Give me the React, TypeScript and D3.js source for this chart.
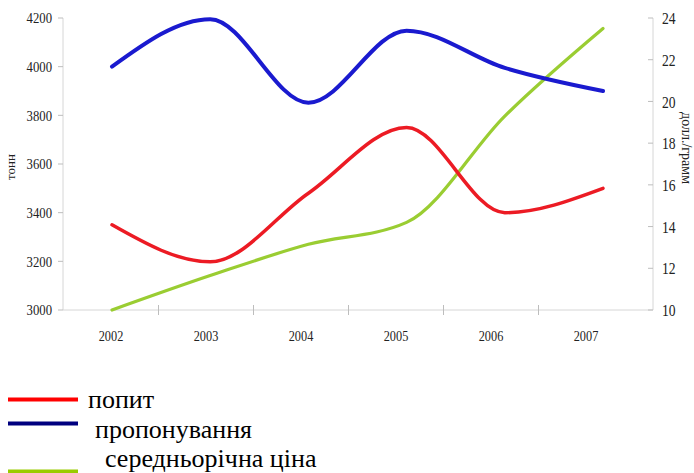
import React from "react";
import * as d3 from "d3";

const years = ["2002", "2003", "2004", "2005", "2006", "2007"];
const demand = [3350, 3198, 3480, 3750, 3400, 3500];
const supply = [4000, 4195, 3852, 4148, 3995, 3900];
const price = [10, 11.65, 13.15, 14.2, 19.3, 23.5];
const leftTicks = [3000, 3200, 3400, 3600, 3800, 4000, 4200];
const rightTicks = [10, 12, 14, 16, 18, 20, 22, 24];
const legendLabels = ["попит", "пропонування", "середньорічна ціна"];

const W = 694;
const H = 473;
const plotLeft = 63;
const plotRight = 653;
const plotTop = 18;
const plotBottom = 310;

export default function App() {
  const yL = d3.scaleLinear().domain([3000, 4200]).range([plotBottom, plotTop]);
  const yR = d3.scaleLinear().domain([10, 24]).range([plotBottom, plotTop]);
  const xBand = d3.scaleBand().domain(years).range([63.5, 633.5]);
  const xPt = d3.scalePoint().domain(years).range([112, 603]);

  const lineL = d3
    .line<number>()
    .x((_, i) => xPt(years[i]) as number)
    .y((d) => yL(d))
    .curve(d3.curveMonotoneX);
  const lineR = d3
    .line<number>()
    .x((_, i) => xPt(years[i]) as number)
    .y((d) => yR(d))
    .curve(d3.curveMonotoneX);

  const axisColor = "#d6d6d6";
  const serif = "Liberation Serif, Times New Roman, serif";
  const boundaries = years.slice(1).map((y) => xBand(y) as number);

  const legendColors = ["#ff0000", "#00007f", "#99cc00"];
  const legendLineY = [399.5, 423.5, 471.5];
  const legendTextX = [88, 95, 105];
  const legendTextY = [408, 438, 467];

  const textStyle = { fontFamily: serif };

  return (
    <svg
      width={W}
      height={H}
      style={{ position: "absolute", left: 0, top: 0, background: "#fff" }}
    >
      <line x1={plotLeft} x2={plotLeft} y1={plotTop} y2={plotBottom} stroke={axisColor} />
      <line x1={plotRight} x2={plotRight} y1={plotTop} y2={plotBottom} stroke={axisColor} />
      <line x1={plotLeft} x2={plotRight} y1={plotBottom} y2={plotBottom} stroke={axisColor} />
      {leftTicks.map((t) => (
        <g key={"l" + t}>
          <line x1={plotLeft - 5} x2={plotLeft} y1={yL(t)} y2={yL(t)} stroke="#bdbdbd" />
          <text
            transform={`translate(52,${yL(t)}) scale(0.82,1)`}
            textAnchor="end"
            dominantBaseline="central"
            style={textStyle}
            fontSize={15.5}
            fill="#222"
          >
            {t}
          </text>
        </g>
      ))}
      {rightTicks.map((t) => (
        <g key={"r" + t}>
          <line x1={plotRight - 5} x2={plotRight} y1={yR(t)} y2={yR(t)} stroke="#bdbdbd" />
          <text
            transform={`translate(662,${yR(t)}) scale(0.8,1)`}
            textAnchor="start"
            dominantBaseline="central"
            style={textStyle}
            fontSize={17}
            fill="#222"
          >
            {t}
          </text>
        </g>
      ))}
      {boundaries.map((b, i) => (
        <line key={"b" + i} x1={b} x2={b} y1={plotBottom - 5} y2={plotBottom + 5} stroke="#bdbdbd" />
      ))}
      {years.map((y) => (
        <text
          key={"x" + y}
          transform={`translate(${(xBand(y) as number) + xBand.bandwidth() / 2},341) scale(0.82,1)`}
          textAnchor="middle"
          style={textStyle}
          fontSize={15}
          fill="#222"
        >
          {y}
        </text>
      ))}
      <text
        transform="translate(15,167) rotate(-90)"
        textAnchor="middle"
        style={textStyle}
        fontSize={13}
        fill="#222"
      >
        тонн
      </text>
      <text
        transform="translate(682,148) rotate(90)"
        textAnchor="middle"
        style={textStyle}
        fontSize={14}
        fill="#222"
      >
        долл./грамм
      </text>

      <path d={lineR(price) || ""} fill="none" stroke="#9acd32" strokeWidth={3.2} strokeLinecap="round" />
      <path d={lineL(demand) || ""} fill="none" stroke="#ec1b24" strokeWidth={3.5} strokeLinecap="round" />
      <path d={lineL(supply) || ""} fill="none" stroke="#1a1acf" strokeWidth={4} strokeLinecap="round" />

      {legendLabels.map((lab, i) => (
        <g key={"lg" + i}>
          <line x1={8} x2={78} y1={legendLineY[i]} y2={legendLineY[i]} stroke={legendColors[i]} strokeWidth={4} />
          <text x={legendTextX[i]} y={legendTextY[i]} style={textStyle} fontSize={26} fill="#000">
            {lab}
          </text>
        </g>
      ))}
    </svg>
  );
}
